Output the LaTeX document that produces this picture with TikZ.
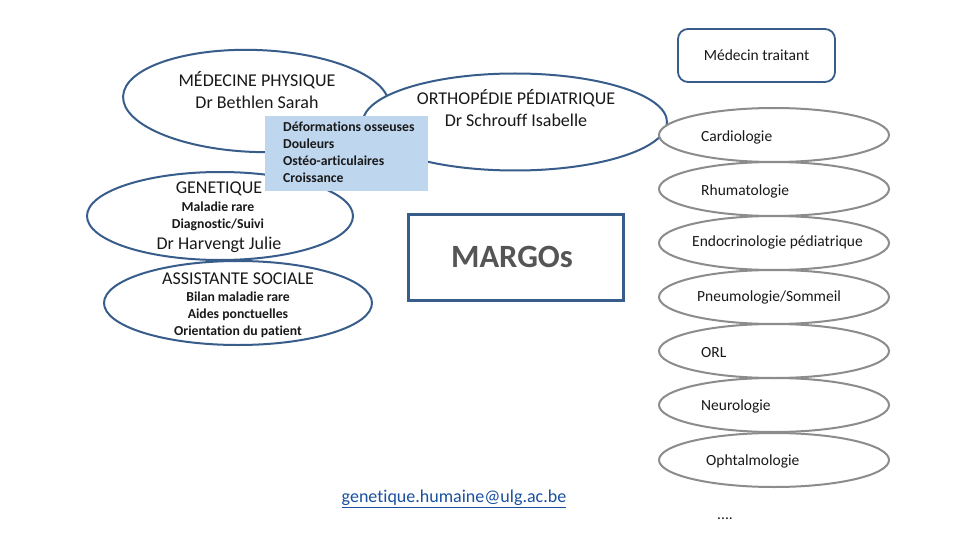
\documentclass[tikz,border=0pt]{standalone}
\usepackage{fontspec}
\setmainfont{Carlito}[Ligatures={NoCommon}]
\usetikzlibrary{shapes.geometric}
\definecolor{dkblue}{RGB}{56,93,138}
\definecolor{ellgray}{RGB}{140,140,140}
\definecolor{boxblue}{RGB}{190,214,238}
\definecolor{txt}{RGB}{25,25,25}
\definecolor{margo}{RGB}{85,85,85}
\definecolor{linkblue}{RGB}{25,80,160}
\begin{document}
\begin{tikzpicture}[x=1pt,y=-1pt,
  bigell/.style={draw=dkblue, line width=2pt, fill=white, ellipse, inner sep=0pt},
  spec/.style={draw=ellgray, line width=2pt, fill=white, ellipse, inner sep=0pt,
    minimum width=230pt, minimum height=54pt},
  biglabel/.style={font=\fontsize{18}{22}\selectfont, text=txt, align=center, inner sep=0pt},
  smalllabel/.style={font=\fontsize{13.7}{17}\selectfont\bfseries, text=txt, inner sep=0pt},
  speclabel/.style={font=\fontsize{15.5}{17}\selectfont, text=txt, anchor=west, inner sep=0pt}
]
\useasboundingbox[fill=white] (0,0) rectangle (960,540);

% left ellipses
\node[bigell, minimum width=266pt, minimum height=102pt, rotate=-2] (medell) at (256,101) {};
\node[bigell, minimum width=304pt, minimum height=97pt] (orthell) at (515,122) {};
\node[bigell, minimum width=266pt, minimum height=88pt] (genell) at (220,216) {};
\node[bigell, minimum width=268pt, minimum height=84pt] (assell) at (238,303) {};

% blue box
\node[fill=boxblue, minimum width=163pt, minimum height=75pt, inner sep=0pt] (bluebox) at (346.5,153.5) {};
\node[smalllabel, align=left, anchor=west] (bluetxt) at (283,152)
  {Déformations osseuses\\Douleurs\\Ostéo-articulaires\\Croissance};

% left labels
\node[biglabel] (medtxt) at (257,90) {MÉDECINE PHYSIQUE\\Dr Bethlen Sarah};
\node[biglabel] (orthtxt) at (516,108) {ORTHOPÉDIE PÉDIATRIQUE\\Dr Schrouff Isabelle};
\node[biglabel] (gentitle) at (219,189) {GENETIQUE};
\node[smalllabel, align=center] (gentxt) at (218,216.5) {Maladie rare\\Diagnostic/Suivi};
\node[biglabel] (gendr) at (219,245) {Dr Harvengt Julie};
\node[biglabel] (asstitle) at (238,279) {ASSISTANTE SOCIALE};
\node[smalllabel, align=center] (asstxt) at (238,315) {Bilan maladie rare\\Aides ponctuelles\\Orientation du patient};

% right specialities
\node[spec] (e1) at (774,135) {};
\node[spec] (e2) at (774,189) {};
\node[spec] (e3) at (774,243) {};
\node[spec] (e4) at (774,297) {};
\node[spec] (e5) at (774,351) {};
\node[spec] (e6) at (774,405) {};
\node[spec] (e7) at (774,460) {};
\node[speclabel] (t1) at (701,137) {Cardiologie};
\node[speclabel] (t2) at (701,191) {Rhumatologie};
\node[speclabel] (t3) at (692,242) {Endocrinologie pédiatrique};
\node[speclabel] (t4) at (697,297) {Pneumologie/Sommeil};
\node[speclabel] (t5) at (701,353) {ORL};
\node[speclabel] (t6) at (701,406) {Neurologie};
\node[speclabel] (t7) at (706,461) {Ophtalmologie};
\node[speclabel] (dots) at (717,519) {....};

% médecin traitant
\node[draw=dkblue, line width=1.8pt, rounded corners=10pt, fill=white,
  minimum width=157pt, minimum height=53pt, inner sep=0pt,
  font=\fontsize{15.5}{17}\selectfont, text=txt] (medtrait) at (756.5,55.5) {Médecin traitant};

% MARGOs
\node[draw=dkblue, line width=3pt, fill=white, minimum width=215pt, minimum height=86pt,
  inner sep=0pt] (margobox) at (515.5,257) {};
\node[font=\fontsize{32.5}{36}\selectfont\bfseries, text=margo, inner sep=0pt] (margotxt) at (512,257) {MARGOs};

% email
\node[font=\fontsize{18}{20}\selectfont, text=linkblue, inner sep=0pt] (email) at (454,499)
  {\underline{genetique.humaine@ulg.ac.be}};
\end{tikzpicture}
\end{document}
